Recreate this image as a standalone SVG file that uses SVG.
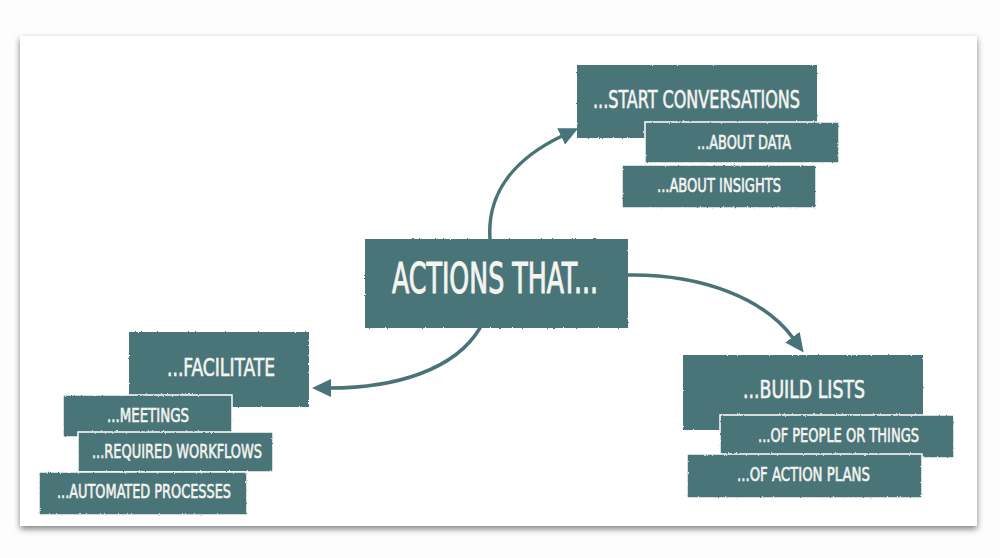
<svg xmlns="http://www.w3.org/2000/svg" width="1000" height="558" viewBox="0 0 1000 558">
  <defs>
    <filter id="cardShadow" x="-5%" y="-5%" width="110%" height="115%">
      <feGaussianBlur in="SourceAlpha" stdDeviation="3"/>
      <feOffset dx="0" dy="3" result="b"/>
      <feComponentTransfer><feFuncA type="linear" slope="0.5"/></feComponentTransfer>
      <feMerge><feMergeNode/><feMergeNode in="SourceGraphic"/></feMerge>
    </filter>
    <filter id="rough" x="-3%" y="-10%" width="106%" height="120%">
      <feTurbulence type="fractalNoise" baseFrequency="0.6" numOctaves="2" seed="3" result="n"/>
      <feDisplacementMap in="SourceGraphic" in2="n" scale="2.2" xChannelSelector="R" yChannelSelector="G"/>
    </filter>
    <marker id="arrow" markerUnits="userSpaceOnUse" markerWidth="20" markerHeight="18" viewBox="0 0 20 18" refX="1" refY="9" orient="auto">
      <path d="M0,0 L19,9 L0,18 Z" fill="#487479"/>
    </marker>
    <style>
      .box { fill: #487479; stroke: #ffffff; stroke-width: 1.5; filter: url(#rough); }
      .main { fill: #487479; filter: url(#rough); }
      .t { fill: #f4f4f0; stroke: #f4f4f0; stroke-width: 0.6; font-family: "DejaVu Sans Condensed", "Liberation Sans Narrow", "Liberation Sans", sans-serif; font-stretch: condensed; font-weight: normal; }
      .t1 { font-size: 42px; stroke-width: 1; }
      .t2 { font-size: 25px; }
      .t3 { font-size: 20px; }
      .conn { fill: none; stroke: #487479; stroke-width: 3.5; stroke-linecap: round; }
    </style>
  </defs>

  <rect x="0" y="0" width="1000" height="558" fill="#fdfdfd"/>
  <rect x="20" y="36" width="957" height="490" fill="#ffffff" filter="url(#cardShadow)"/>

  <g id="connectors">
    <path class="conn" d="M490,239 C487,195 512,160 562,136" marker-end="url(#arrow)"/>
    <path class="conn" d="M628,275 C705,274 765,300 793,338" marker-end="url(#arrow)"/>
    <path class="conn" d="M480,328 C455,370 395,388 330,388" marker-end="url(#arrow)"/>
  </g>

  <g id="actions-that">
    <rect class="main" x="365" y="239" width="263" height="89"/>
    <text class="t t1" x="392" y="293" textLength="206" lengthAdjust="spacingAndGlyphs">ACTIONS THAT...</text>
  </g>

  <g id="start-conversations">
    <rect class="main" x="577" y="65" width="240" height="73"/>
    <text class="t t2" x="593" y="108" textLength="207" lengthAdjust="spacingAndGlyphs">...START CONVERSATIONS</text>
  </g>
  <g id="about-data">
    <rect class="box" x="645" y="122" width="194" height="41"/>
    <text class="t t3" x="697" y="149" textLength="94" lengthAdjust="spacingAndGlyphs">...ABOUT DATA</text>
  </g>
  <g id="about-insights">
    <rect class="box" x="622" y="165" width="194" height="43"/>
    <text class="t t3" x="657" y="192" textLength="124" lengthAdjust="spacingAndGlyphs">...ABOUT INSIGHTS</text>
  </g>

  <g id="facilitate">
    <rect class="main" x="129" y="332" width="180" height="75"/>
    <text class="t t2" x="167" y="376" textLength="108" lengthAdjust="spacingAndGlyphs">...FACILITATE</text>
  </g>
  <g id="meetings">
    <rect class="box" x="63" y="395" width="169" height="42"/>
    <text class="t t3" x="107" y="422" textLength="82" lengthAdjust="spacingAndGlyphs">...MEETINGS</text>
  </g>
  <g id="required-workflows">
    <rect class="box" x="78" y="432" width="195" height="40"/>
    <text class="t t3" x="92" y="458" textLength="170" lengthAdjust="spacingAndGlyphs">...REQUIRED WORKFLOWS</text>
  </g>
  <g id="automated-processes">
    <rect class="box" x="39" y="472" width="208" height="43"/>
    <text class="t t3" x="57" y="498" textLength="174" lengthAdjust="spacingAndGlyphs">...AUTOMATED PROCESSES</text>
  </g>

  <g id="build-lists">
    <rect class="main" x="683" y="355" width="240" height="75"/>
    <text class="t t2" x="743" y="398" textLength="122" lengthAdjust="spacingAndGlyphs">...BUILD LISTS</text>
  </g>
  <g id="people-or-things">
    <rect class="box" x="720" y="415" width="234" height="43"/>
    <text class="t t3" x="758" y="442" textLength="161" lengthAdjust="spacingAndGlyphs">...OF PEOPLE OR THINGS</text>
  </g>
  <g id="action-plans">
    <rect class="box" x="687" y="454" width="235" height="44"/>
    <text class="t t3" x="737" y="481" textLength="133" lengthAdjust="spacingAndGlyphs">...OF ACTION PLANS</text>
  </g>
</svg>
